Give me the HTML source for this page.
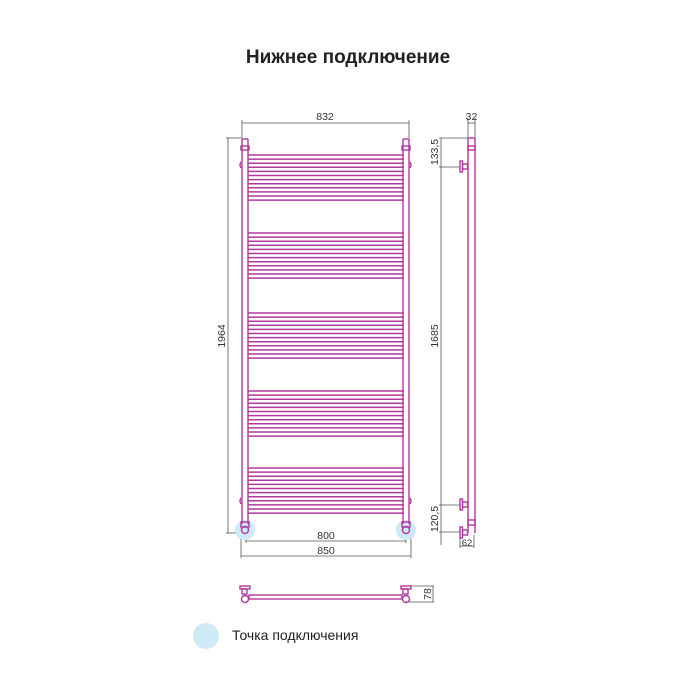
<!DOCTYPE html>
<html><head><meta charset="utf-8"><style>
html,body{margin:0;padding:0;background:#fff;}
svg{display:block}
text{font-family:"Liberation Sans",sans-serif;fill:#333}
</style></head><body>
<svg width="700" height="700" viewBox="0 0 700 700">
<defs>
<g id="grp" stroke="#b0389e" stroke-width="1.5">
<line x1="248" x2="404" y1="0" y2="0"/><line x1="248" x2="404" y1="4.1" y2="4.1"/>
<line x1="248" x2="404" y1="8.2" y2="8.2"/><line x1="248" x2="404" y1="12.3" y2="12.3"/>
<line x1="248" x2="404" y1="16.4" y2="16.4"/><line x1="248" x2="404" y1="20.5" y2="20.5"/>
<line x1="248" x2="404" y1="24.6" y2="24.6"/><line x1="248" x2="404" y1="28.7" y2="28.7"/>
<line x1="248" x2="404" y1="32.8" y2="32.8"/><line x1="248" x2="404" y1="36.9" y2="36.9"/>
<line x1="248" x2="404" y1="41" y2="41"/><line x1="248" x2="404" y1="45.1" y2="45.1"/>
</g>
</defs>
<text x="348" y="63" font-size="19" font-weight="bold" text-anchor="middle" style="fill:#222">Нижнее подключение</text>

<g stroke="#555" stroke-width="0.8" fill="none">
<line x1="242" y1="123" x2="409" y2="123"/><line x1="242" y1="120" x2="242" y2="138"/><line x1="409" y1="120" x2="409" y2="138"/>
<line x1="228" y1="138" x2="228" y2="533"/><line x1="226" y1="138" x2="242" y2="138"/><line x1="226" y1="533" x2="242" y2="533"/>
<line x1="246" y1="541" x2="406" y2="541"/><line x1="246" y1="533" x2="246" y2="543"/><line x1="406" y1="533" x2="406" y2="543"/>
<line x1="241" y1="556" x2="411" y2="556"/><line x1="241" y1="533" x2="241" y2="558"/><line x1="411" y1="533" x2="411" y2="558"/>
<line x1="441" y1="138" x2="441" y2="545"/>
<line x1="439" y1="138" x2="470" y2="138"/><line x1="439" y1="167" x2="460" y2="167"/>
<line x1="439" y1="505" x2="460" y2="505"/><line x1="439" y1="532" x2="460" y2="532"/>
<line x1="468" y1="118" x2="468" y2="138"/><line x1="475" y1="118" x2="475" y2="138"/><line x1="468" y1="123" x2="475" y2="123"/>
<line x1="460" y1="535" x2="460" y2="548"/><line x1="474" y1="535" x2="474" y2="548"/><line x1="460" y1="546" x2="474" y2="546"/>
<line x1="406" y1="586" x2="434" y2="586"/><line x1="406" y1="602" x2="434" y2="602"/><line x1="433" y1="586" x2="433" y2="602"/>
</g>
<g font-size="10.5">
<text x="325" y="120" text-anchor="middle">832</text>
<text x="326" y="539" text-anchor="middle">800</text>
<text x="326" y="554" text-anchor="middle">850</text>
<text transform="translate(225,336) rotate(-90)" text-anchor="middle">1964</text>
<text transform="translate(438,336) rotate(-90)" text-anchor="middle">1685</text>
<text transform="translate(438,152) rotate(-90)" text-anchor="middle">133,5</text>
<text transform="translate(438,519) rotate(-90)" text-anchor="middle">120,5</text>
<text x="471.5" y="120" text-anchor="middle">32</text>
<text x="467" y="546" text-anchor="middle" font-size="9.5">62</text>
<text transform="translate(431,594) rotate(-90)" text-anchor="middle">78</text>
</g>

<circle cx="245" cy="530" r="10" fill="#cfeaf7"/>
<circle cx="406" cy="530" r="10" fill="#cfeaf7"/>
<circle cx="206" cy="636" r="13" fill="#cfeaf7"/>
<text x="232" y="640" font-size="14" style="fill:#222">Точка подключения</text>

<g stroke="#b0389e" stroke-width="1.4" fill="none">
<line x1="242" y1="139" x2="242" y2="524"/><line x1="248" y1="139" x2="248" y2="524"/><line x1="242" y1="139" x2="248" y2="139"/>
<line x1="403" y1="139" x2="403" y2="524"/><line x1="409" y1="139" x2="409" y2="524"/><line x1="403" y1="139" x2="409" y2="139"/>
<rect x="241" y="146" width="8" height="4"/><rect x="402" y="146" width="8" height="4"/>
<rect x="241" y="522" width="8" height="5"/><rect x="402" y="522" width="8" height="5"/>
<circle cx="245" cy="530" r="3.5"/><circle cx="406" cy="530" r="3.5"/>
<path d="M241 162 q-2 3 0 6 M410 162 q2 3 0 6 M241 498 q-2 3 0 6 M410 498 q2 3 0 6"/>
</g>
<use href="#grp" y="155"/><use href="#grp" y="233"/><use href="#grp" y="313"/><use href="#grp" y="391"/><use href="#grp" y="468"/>

<g stroke="#b0389e" stroke-width="1.4" fill="none">
<line x1="468" y1="138" x2="468" y2="533"/><line x1="475" y1="138" x2="475" y2="533"/><line x1="468" y1="138" x2="475" y2="138"/>
<rect x="468" y="146" width="7" height="4"/>
<rect x="468" y="520" width="7" height="5"/>
<rect x="460" y="161" width="2.5" height="11"/><rect x="462.5" y="164" width="5" height="5"/>
<rect x="460" y="499" width="2.5" height="11"/><rect x="462.5" y="502" width="5" height="5"/>
<rect x="460" y="527" width="2.5" height="11"/><rect x="462.5" y="530" width="5" height="5"/>
</g>

<g stroke="#b0389e" stroke-width="1.4" fill="none">
<rect x="249" y="595" width="153" height="4"/>
<rect x="240" y="586" width="10" height="3"/><rect x="242" y="589" width="5" height="5"/><circle cx="245" cy="599" r="3.5"/>
<rect x="401" y="586" width="10" height="3"/><rect x="403" y="589" width="5" height="5"/><circle cx="406" cy="599" r="3.5"/>
</g>
</svg>
</body></html>
